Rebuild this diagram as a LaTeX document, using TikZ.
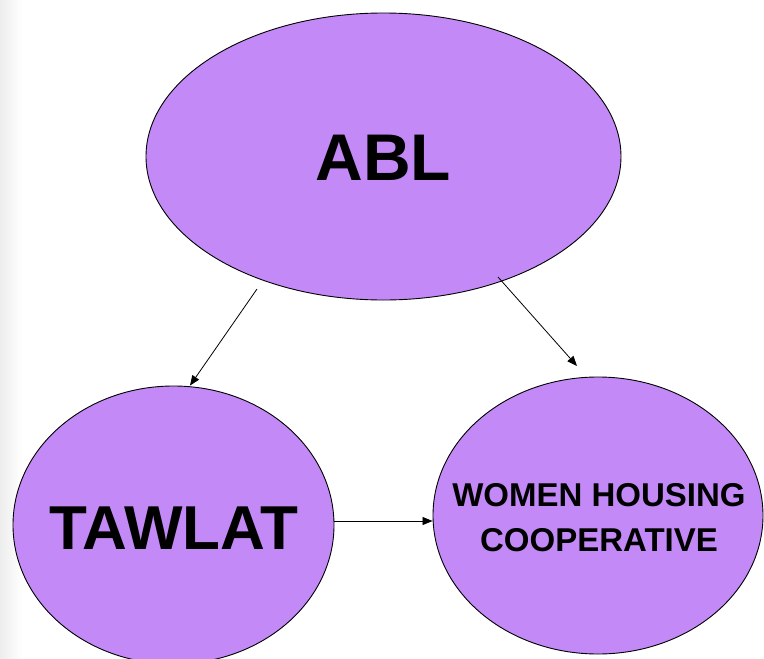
\documentclass[tikz,border=0pt]{standalone}
\usepackage{fontspec}
\setmainfont{Liberation Sans}
\usetikzlibrary{shapes.geometric,arrows.meta}
\definecolor{lav}{RGB}{195,138,247}
\tikzset{
  blob/.style={ellipse, draw=black, line width=0.9pt, fill=lav, inner sep=0pt, font=\bfseries},
  conn/.style={line width=0.8pt, -{Triangle[length=10pt,width=8pt]}}
}
\begin{document}
\begin{tikzpicture}[x=1pt,y=1pt]
\useasboundingbox (0,0) rectangle (764,-659);
\clip (0,0) rectangle (764,-659);
\fill[left color=black!7, right color=white] (0,0) rectangle (22,-659);
\node[blob, minimum width=475pt, minimum height=287pt] (abl) at (383.5,-156.5) {};
\node[font=\bfseries\fontsize{66}{70}\selectfont] at (383.5,-158) {ABL};
\node[blob, minimum width=321pt, minimum height=278pt] (tawlat) at (173.5,-525) {};
\node[font=\bfseries\fontsize{62}{66}\selectfont] at (174,-528) {TAWLAT};
\node[blob, minimum width=330pt, minimum height=277pt] (women) at (598,-515.5) {};
\node[font=\bfseries\fontsize{33}{45}\selectfont, align=center] at (599,-518) {WOMEN HOUSING\\COOPERATIVE};
\coordinate (s1) at (257,-289);
\coordinate (s2) at (498,-277);
\coordinate (e2) at (577,-366);
\coordinate (h) at (0,-521);
\draw[conn] (s1) -- (tawlat.north -| 190,0);
\draw[conn] (s2) -- (e2);
\draw[conn] (tawlat.east |- h) -- (women.west |- h);
\end{tikzpicture}
\end{document}
